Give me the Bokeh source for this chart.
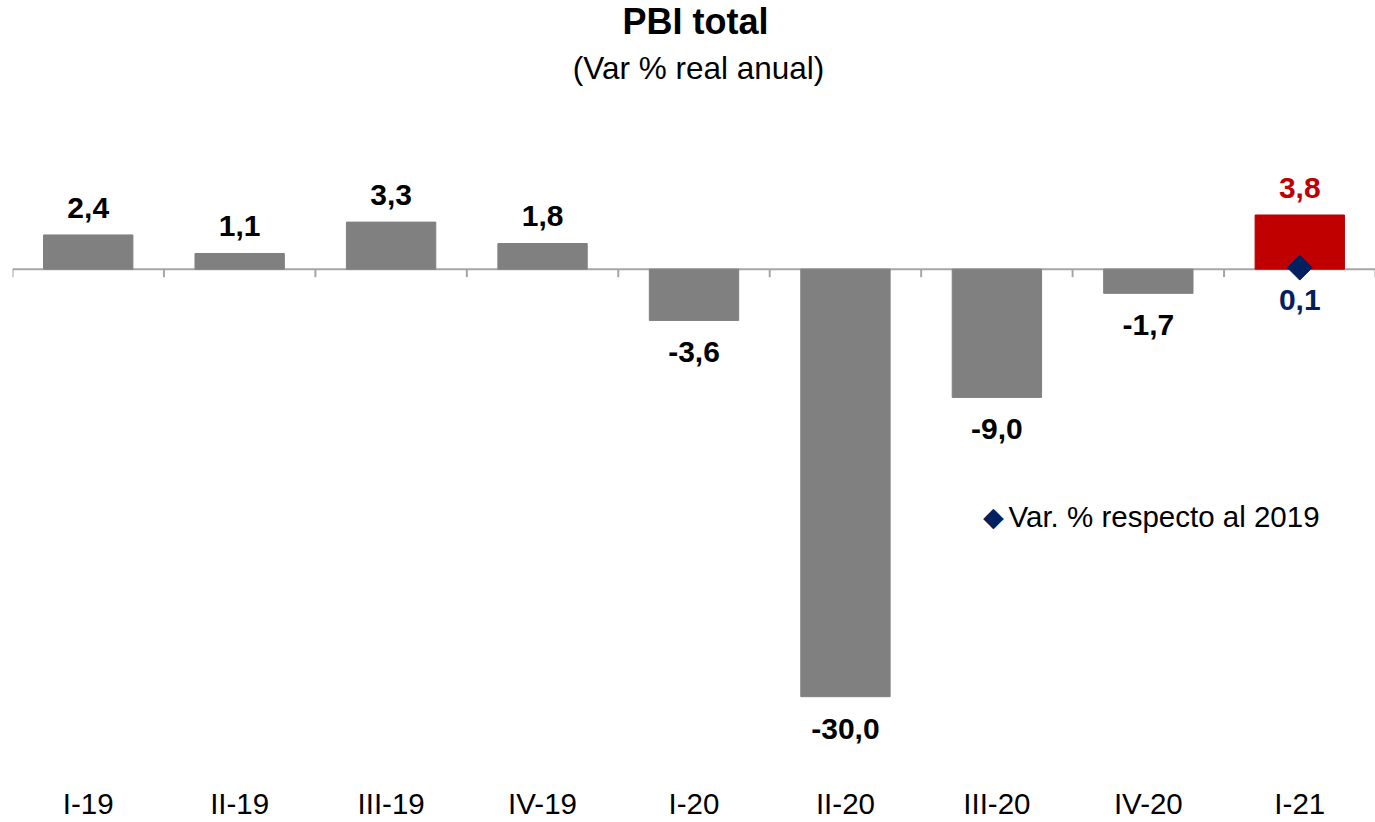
import math
from bokeh.plotting import figure
from bokeh.models import Range1d, FixedTicker, Span, Label, ColumnDataSource
from bokeh.core.properties import value
from bokeh.embed import file_html
from bokeh.resources import INLINE

# ---------------- data ----------------
categories = ["I-19", "II-19", "III-19", "IV-19", "I-20", "II-20", "III-20", "IV-20", "I-21"]
pbi_var = [2.4, 1.1, 3.3, 1.8, -3.6, -30.0, -9.0, -1.7, 3.8]
vs2019_category = ["I-21"]
vs2019_var = [0.1]
title_text = "PBI total"
subtitle_text = "(Var % real anual)"
legend_text = "Var. % respecto al 2019"

# ---------------- style ----------------
FONT = "Liberation Sans"
GRAY = "#808080"
RED = "#C00000"
NAVY = "#002060"
AXIS_GRAY = "#A6A6A6"

W, H = 1375, 822
Y_MIN, Y_MAX = -35.88, 18.85
FRAME_H_EST = 781.0
PX_PER_UNIT = FRAME_H_EST / (Y_MAX - Y_MIN)


def fmt(v):
    return f"{v:.1f}".replace(".", ",")


n = len(categories)
xs = list(range(n))
hl = n - 1
bar_colors = [RED if i == hl else GRAY for i in xs]
lbl_colors = [RED if i == hl else "#000000" for i in xs]
lbl_offsets = [-27 if v >= 0 else 32 for v in pbi_var]

src = ColumnDataSource(dict(x=xs, top=pbi_var, color=bar_colors,
                            label=[fmt(v) for v in pbi_var],
                            lcolor=lbl_colors, loff=lbl_offsets))

p = figure(width=W, height=H, x_range=Range1d(-0.5, n - 0.5),
           y_range=Range1d(Y_MIN, Y_MAX), output_backend="svg",
           toolbar_location=None, title=None,
           min_border_left=12, min_border_right=0, min_border_top=0,
           min_border_bottom=0)
p.outline_line_color = None
p.xgrid.visible = False
p.ygrid.visible = False
p.yaxis.visible = False

# titles (frame-relative screen units)
p.add_layout(Label(x=683, y=759, x_units="screen", y_units="screen", text=title_text,
                   text_align="center", text_baseline="middle", text_font=FONT,
                   text_font_size="36px", text_font_style="bold", text_color="#000000"))
p.add_layout(Label(x=686, y=713, x_units="screen", y_units="screen", text=subtitle_text,
                   text_align="center", text_baseline="middle", text_font=FONT,
                   text_font_size="31.5px", text_color="#000000"))

# zero axis line + boundary ticks
p.add_layout(Span(location=0, dimension="width", line_color=AXIS_GRAY,
                  line_width=2, level="underlay"))
bounds = [i - 0.5 for i in range(n + 1)]
p.segment(x0=bounds, x1=bounds, y0=[0] * len(bounds),
          y1=[-8 / PX_PER_UNIT] * len(bounds), line_color=AXIS_GRAY, line_width=2,
          level="underlay")

# bars
p.vbar(x="x", top="top", bottom=0, width=0.59, color="color", source=src)

# bar labels
p.text(x="x", y="top", text="label", text_color="lcolor", y_offset="loff",
       text_align="center", text_baseline="alphabetic",
       text_font=value(FONT), text_font_style="bold", text_font_size="30px",
       source=src)

# diamond: var vs 2019
vx = [categories.index(c) for c in vs2019_category]
dsrc = ColumnDataSource(dict(x=vx, y=vs2019_var, label=[fmt(v) for v in vs2019_var]))
p.scatter(x="x", y="y", marker="square", angle=math.pi / 4, size=17.5,
          color=NAVY, source=dsrc)
p.text(x="x", y="y", text="label", text_color=NAVY, y_offset=32,
       text_align="center", text_baseline="alphabetic",
       text_font=value(FONT), text_font_style="bold", text_font_size="30px",
       source=dsrc)

# legend (diamond symbol + text)
p.add_layout(Label(x=981, y=264, x_units="screen", y_units="screen", text="\u25c6",
                   text_align="center", text_baseline="middle", text_font="DejaVu Sans",
                   text_font_size="27px", text_color=NAVY))
p.add_layout(Label(x=996, y=264, x_units="screen", y_units="screen", text=legend_text,
                   text_align="left", text_baseline="middle", text_font=FONT,
                   text_font_size="29.5px", text_color="#000000"))

# category axis
p.xaxis.ticker = FixedTicker(ticks=xs)
p.xaxis.major_label_overrides = {i: c for i, c in enumerate(categories)}
p.xaxis.axis_line_color = None
p.xaxis.major_tick_line_color = None
p.xaxis.minor_tick_line_color = None
p.xaxis.major_tick_out = 0
p.xaxis.major_label_standoff = 6
p.xaxis.major_label_text_font = FONT
p.xaxis.major_label_text_font_size = "29.5px"
p.xaxis.major_label_text_color = "#000000"

open("out.html", "w").write(file_html(p, INLINE))
